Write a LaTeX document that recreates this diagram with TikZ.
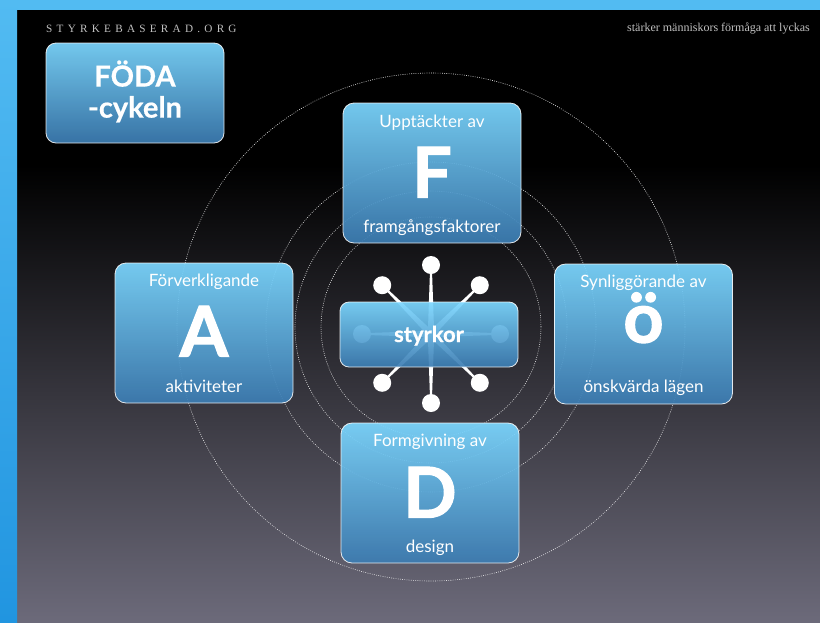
\documentclass[tikz,border=0pt]{standalone}
\usepackage{fontspec}
\setmainfont{Lato}
\newfontfamily\serifface{Liberation Serif}
\newfontfamily\spacedface{Liberation Serif}[LetterSpace=38]
\newcommand\heavyface{\bfseries\addfontfeature{FakeBold=1.6}}
\newcommand\semiheavy{\bfseries\addfontfeature{FakeBold=0.6}}
\usetikzlibrary{calc}
\definecolor{boxtop}{RGB}{124,215,255}
\definecolor{boxbot}{RGB}{60,124,178}
\definecolor{frameblue}{RGB}{82,187,242}
\definecolor{framedark}{RGB}{33,149,224}
\definecolor{bgmid}{RGB}{44,43,66}
\definecolor{bgbot}{RGB}{108,106,122}
\definecolor{greytext}{RGB}{192,192,192}
\tikzset{
  bluebox/.style={rounded corners=11pt, draw=white, draw opacity=0.85, line width=0.8pt,
    top color=boxtop, bottom color=boxbot, fill opacity=0.93, inner sep=0pt},
  bigbox/.style={bluebox, minimum width=178pt, minimum height=140pt},
  lbl/.style={text=white, font=\fontsize{17}{17}\selectfont, anchor=base, inner sep=0pt},
  bigletter/.style={text=white, font=\heavyface\fontsize{70}{70}\selectfont, anchor=base, inner sep=0pt},
  ring/.style={white, draw opacity=0.9, line width=0.6pt, dash pattern=on 0.8pt off 1.4pt},
  dot/.style={circle, fill=white, minimum size=18pt, inner sep=0pt}
}
\begin{document}
\begin{tikzpicture}[x=1pt,y=-1pt]
\useasboundingbox (0,0) rectangle (820,622);
% background
\fill[black] (17,10) rectangle (820,622);
\shade[top color=black, middle color=bgmid, bottom color=bgbot] (17,165) rectangle (820,622);
\fill[frameblue] (0,0) rectangle (820,10);
\shade[top color=frameblue, bottom color=framedark] (0,0) rectangle (17,622);
% header texts
\node[anchor=base west, inner sep=0pt, text=greytext, font=\spacedface\fontsize{11.2}{11.2}\selectfont] (site) at (46,32) {STYRKEBASERAD.ORG};
\node[anchor=base east, inner sep=0pt, text=greytext, font=\serifface\fontsize{12}{12}\selectfont] (slogan) at (810,31) {stärker människors förmåga att lyckas};
% rings
\coordinate (ctr) at (431,327);
\foreach \r in {254,165,136,110}{\draw[ring] (ctr) circle[radius=\r pt];}
% star
\coordinate (star) at (431,334);
\foreach \a [count=\i] in {0,45,...,315}{
  \coordinate (p\i) at ($(star)+(\a:69)$);
  \fill[white] ($(star)!3.2pt!90:(p\i)$) -- ($(p\i)!0.8pt!-90:(star)$) -- ($(p\i)!0.8pt!90:(star)$) -- ($(star)!3.2pt!-90:(p\i)$) -- cycle;
  \node[dot] (s\i) at (p\i) {};
}
% title box
\node[bluebox, minimum width=178pt, minimum height=100pt, rounded corners=10pt] (title) at (135,93) {};
\node[anchor=base, inner sep=0pt, text=white, font=\semiheavy\fontsize{29}{29}\selectfont] (t1) at ($(title.north)+(0,44)$) {FÖDA};
\node[anchor=base, inner sep=0pt, text=white, font=\semiheavy\fontsize{29}{29}\selectfont] (t2) at ($(title.north)+(0,75)$) {-cykeln};
% F box
\node[bigbox] (F) at (432,173) {};
\node[lbl] (Ft) at ($(F.north)+(0,25)$) {Upptäckter av};
\node[bigletter] (Fl) at ($(F.north)+(0,95)$) {F};
\node[lbl] (Fb) at ($(F.north)+(0,130)$) {framgångsfaktorer};
% A box
\node[bigbox] (A) at (204,333) {};
\node[lbl] (At) at ($(A.north)+(0,24)$) {Förverkligande};
\node[bigletter] (Al) at ($(A.north)+(0,94)$) {A};
\node[lbl] (Ab) at ($(A.north)+(0,130)$) {aktiviteter};
% Ö box
\node[bigbox] (O) at (643.5,334) {};
\node[lbl] (Ot) at ($(O.north)+(0,24)$) {Synliggörande av};
\node[bigletter] (Ol) at ($(O.north)+(0,79)$) {ö};
\node[lbl] (Ob) at ($(O.north)+(0,129)$) {önskvärda lägen};
% D box
\node[bigbox] (D) at (430,493) {};
\node[lbl] (Dt) at ($(D.north)+(0,24)$) {Formgivning av};
\node[bigletter] (Dl) at ($(D.north)+(0,95)$) {D};
\node[lbl] (Db) at ($(D.north)+(0,130)$) {design};
% styrkor box
\node[bluebox, minimum width=178pt, minimum height=65pt, rounded corners=9pt] (S) at (429,334.5) {};
\node[anchor=base, inner sep=0pt, text=white, font=\semiheavy\fontsize{22}{22}\selectfont] (St) at ($(S.center)+(0,7.5)$) {styrkor};
\end{tikzpicture}
\end{document}
